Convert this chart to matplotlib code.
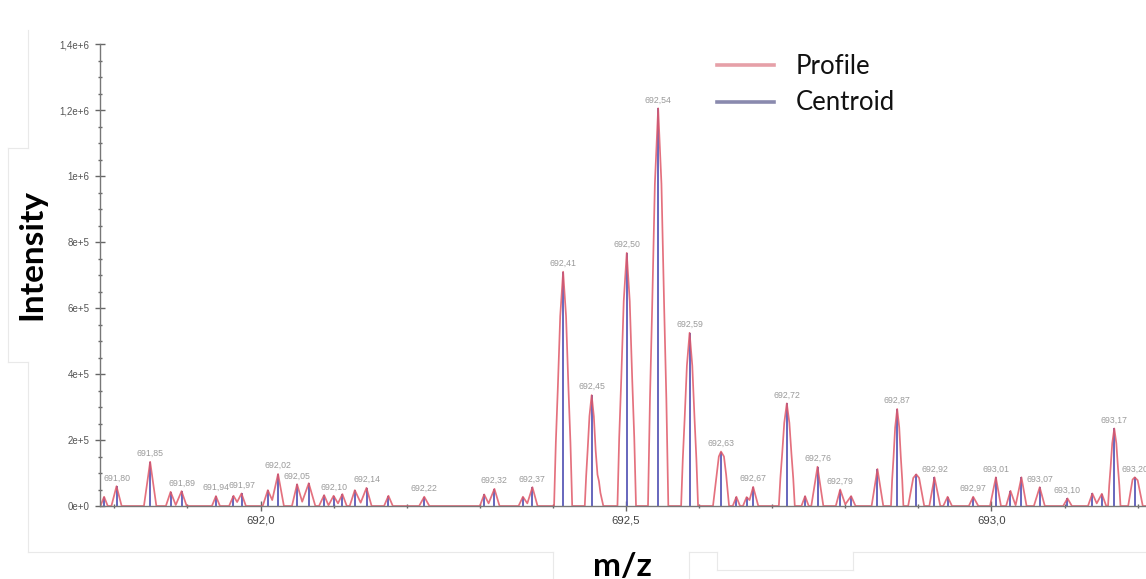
import matplotlib
matplotlib.use("Agg")
import matplotlib.pyplot as plt
from matplotlib.lines import Line2D
from matplotlib.ticker import FixedLocator, MultipleLocator

# ---------------- data ----------------
centroid_mz = [691.786, 691.803, 691.849, 691.877, 691.892, 691.939, 691.963, 691.974,
               692.010, 692.024, 692.050, 692.066, 692.087, 692.100, 692.112, 692.129,
               692.145, 692.175, 692.224, 692.306, 692.320, 692.359, 692.372, 692.414,
               692.453, 692.501, 692.544, 692.587, 692.630, 692.651, 692.665, 692.674,
               692.720, 692.745, 692.762, 692.793, 692.808, 692.844, 692.871, 692.897,
               692.922, 692.940, 692.975, 693.006, 693.026, 693.041, 693.066, 693.104,
               693.138, 693.151, 693.168, 693.196]
centroid_int = [28e3, 60e3, 134e3, 43e3, 45e3, 30e3, 31e3, 38e3,
                48e3, 97e3, 66e3, 69e3, 33e3, 31e3, 36e3, 48e3,
                55e3, 31e3, 28e3, 35e3, 52e3, 28e3, 57e3, 710e3,
                336e3, 767e3, 1205e3, 525e3, 165e3, 28e3, 27e3, 58e3,
                311e3, 30e3, 119e3, 50e3, 30e3, 112e3, 294e3, 96e3,
                87e3, 28e3, 28e3, 87e3, 46e3, 87e3, 57e3, 23e3,
                38e3, 37e3, 235e3, 87e3]

profile_mz = [691.780,
    691.781, 691.786, 691.791,
    691.796, 691.803, 691.810,
    691.8405, 691.849, 691.8575,
    691.8705, 691.877, 691.884, 691.892, 691.899,
    691.9335, 691.939, 691.9445,
    691.957, 691.963, 691.968, 691.974, 691.980,
    692.003, 692.010, 692.016, 692.024, 692.032,
    692.043, 692.050, 692.057, 692.066, 692.075,
    692.080, 692.087, 692.093, 692.100, 692.106, 692.112, 692.118,
    692.122, 692.129, 692.137, 692.145, 692.152,
    692.169, 692.175, 692.181,
    692.217, 692.224, 692.231,
    692.300, 692.306, 692.312, 692.320, 692.327,
    692.353, 692.359, 692.365, 692.372, 692.379,
    692.4016, 692.404, 692.4067, 692.410, 692.414, 692.418, 692.4213, 692.424, 692.4264,
    692.4436, 692.4455, 692.4475, 692.450, 692.453, 692.456, 692.4585, 692.461, 692.463, 692.465, 692.469,
    692.4883, 692.4907, 692.4935, 692.4969, 692.501, 692.5051, 692.5085, 692.5113, 692.5137,
    692.5301, 692.5328, 692.5358, 692.5395, 692.544, 692.5485, 692.5522, 692.5552, 692.5579,
    692.5754, 692.5777, 692.5802, 692.5833, 692.587, 692.5907, 692.5938, 692.5963, 692.5986,
    692.619, 692.624, 692.627, 692.630, 692.634, 692.637, 692.641,
    692.646, 692.651, 692.656,
    692.660, 692.665, 692.669, 692.674, 692.681,
    692.7091, 692.7112, 692.7136, 692.7165, 692.720, 692.7235, 692.7264, 692.7288, 692.7309,
    692.740, 692.745, 692.750,
    692.7535, 692.762, 692.770,
    692.787, 692.793, 692.800, 692.808, 692.814,
    692.836, 692.844, 692.852,
    692.8625, 692.8641, 692.866, 692.8682, 692.871, 692.8738, 692.876, 692.8779, 692.8795,
    692.886, 692.893, 692.897, 692.901, 692.908,
    692.915, 692.922, 692.930,
    692.934, 692.940, 692.946,
    692.969, 692.975, 692.982,
    692.998, 693.006, 693.013,
    693.020, 693.026, 693.033, 693.041, 693.048,
    693.058, 693.066, 693.073,
    693.098, 693.104, 693.110,
    693.132, 693.138, 693.144, 693.151, 693.157,
    693.1595, 693.1611, 693.163, 693.1652, 693.168, 693.1708, 693.173, 693.1749, 693.1765,
    693.187, 693.193, 693.196, 693.200, 693.207,
    693.215]
profile_int = [0,
    0, 28e3, 0,
    0, 60e3, 0,
    0, 134e3, 0,
    0, 43e3, 3e3, 45e3, 0,
    0, 30e3, 0,
    0, 31e3, 12e3, 38e3, 0,
    0, 48e3, 18e3, 97e3, 0,
    0, 66e3, 13e3, 69e3, 0,
    0, 33e3, 2e3, 31e3, 8e3, 36e3, 0,
    0, 48e3, 10e3, 55e3, 0,
    0, 31e3, 0,
    0, 28e3, 0,
    0, 35e3, 8e3, 52e3, 0,
    0, 28e3, 8e3, 57e3, 0,
    0, 192e3, 355e3, 575e3, 710e3, 575e3, 355e3, 192e3, 0,
    0, 91e3, 168e3, 272e3, 336e3, 272e3, 168e3, 95e3, 75e3, 40e3, 0,
    0, 207e3, 384e3, 621e3, 767e3, 621e3, 384e3, 207e3, 0,
    0, 325e3, 603e3, 976e3, 1205e3, 976e3, 603e3, 325e3, 0,
    0, 142e3, 263e3, 425e3, 525e3, 425e3, 263e3, 142e3, 0,
    0, 95e3, 150e3, 165e3, 150e3, 95e3, 0,
    0, 28e3, 0,
    0, 27e3, 18e3, 58e3, 0,
    0, 84e3, 156e3, 252e3, 311e3, 252e3, 156e3, 84e3, 0,
    0, 30e3, 0,
    0, 119e3, 0,
    0, 50e3, 5e3, 30e3, 0,
    0, 112e3, 0,
    0, 79e3, 147e3, 238e3, 294e3, 238e3, 147e3, 79e3, 0,
    0, 85e3, 96e3, 85e3, 0,
    0, 87e3, 0,
    0, 28e3, 0,
    0, 28e3, 0,
    0, 87e3, 0,
    0, 46e3, 2e3, 87e3, 0,
    0, 57e3, 0,
    0, 23e3, 0,
    0, 38e3, 8e3, 37e3, 0,
    0, 63e3, 118e3, 190e3, 235e3, 190e3, 118e3, 63e3, 0,
    0, 80e3, 87e3, 78e3, 0,
    0]

label_mz = [691.803, 691.849, 691.892, 691.939, 691.974, 692.024, 692.050, 692.100,
            692.145, 692.224, 692.320, 692.372, 692.414, 692.453, 692.501, 692.544,
            692.587, 692.630, 692.674, 692.720, 692.762, 692.793, 692.871, 692.922,
            692.975, 693.006, 693.066, 693.104, 693.168, 693.196]
label_text = ["691,80", "691,85", "691,89", "691,94", "691,97", "692,02", "692,05", "692,10",
              "692,14", "692,22", "692,32", "692,37", "692,41", "692,45", "692,50", "692,54",
              "692,59", "692,63", "692,67", "692,72", "692,76", "692,79", "692,87", "692,92",
              "692,97", "693,01", "693,07", "693,10", "693,17", "693,20"]

xtick_vals = [692.0, 692.5, 693.0]
xtick_labels = ["692,0", "692,5", "693,0"]
ytick_vals = [0, 2e5, 4e5, 6e5, 8e5, 1e6, 1.2e6, 1.4e6]
ytick_labels = ["0e+0", "2e+5", "4e+5", "6e+5", "8e+5", "1e+6", "1,2e+6", "1,4e+6"]

# ---------------- figure ----------------
W, H = 1146, 579
fig = plt.figure(figsize=(W / 100, H / 100), dpi=100)
fig.patch.set_facecolor("white")

def fx(px):
    return px / W

def fy(py):
    return (H - py) / H

ax = fig.add_axes([fx(100), fy(506), 1 - fx(100), fy(44) - fy(506)])
ax.set_xlim(691.7804, 693.2114)
ax.set_ylim(0, 1.4e6)

profile_color = "#e05868"
centroid_color = "#5a5ab8"

ax.vlines(centroid_mz, 0, centroid_int, colors=centroid_color, linewidth=1.3, zorder=2)
ax.plot(profile_mz, profile_int, color=profile_color, linewidth=1.25, alpha=0.85, zorder=3,
        solid_joinstyle="round")

lookup = dict(zip(centroid_mz, centroid_int))
for m, t in zip(label_mz, label_text):
    ax.annotate(t, (m, lookup[m]), xytext=(0, 6.0), textcoords="offset points",
                ha="center", va="center", fontsize=6.3, color="#9a9a9a",
                family="Liberation Sans", annotation_clip=False)

for s in ["top", "right"]:
    ax.spines[s].set_visible(False)
for s in ["left", "bottom"]:
    ax.spines[s].set_color("#777777")
    ax.spines[s].set_linewidth(1.0)
    ax.spines[s].set_zorder(4)

ax.xaxis.set_major_locator(FixedLocator(xtick_vals))
ax.set_xticklabels(xtick_labels, family="Liberation Sans", fontsize=8.2, color="#444444")
ax.xaxis.set_minor_locator(MultipleLocator(0.1))
ax.yaxis.set_major_locator(FixedLocator(ytick_vals))
ax.set_yticklabels(ytick_labels, family="Liberation Sans", fontsize=7, color="#555555")
ax.yaxis.set_minor_locator(MultipleLocator(5e4))

ax.tick_params(axis="both", which="major", direction="inout", length=7, width=1.0,
               color="#666666")
ax.tick_params(axis="both", which="minor", direction="inout", length=3.5, width=1.0,
               color="#666666")
ax.tick_params(axis="y", which="major", pad=4)
ax.tick_params(axis="x", which="major", pad=3)
ax.set_facecolor("none")

# axis titles
fig.text(fx(32), fy(255), "Intensity", rotation=90, ha="center", va="center",
         family="Lato", fontweight="bold", fontsize=24, color="black")
fig.text(fx(622), fy(566), "m/z", ha="center", va="center",
         family="Lato", fontweight="bold", fontsize=24, color="black")

# legend
fig.add_artist(Line2D([fx(717), fx(774)], [fy(64.5), fy(64.5)], color="#e6a0a8", lw=2.6))
fig.add_artist(Line2D([fx(717), fx(774)], [fy(102), fy(102)], color="#8a8aae", lw=2.6))
fig.text(fx(796), fy(66), "Profile", ha="left", va="center", family="Lato",
         fontsize=18.5, color="#111111")
fig.text(fx(796), fy(103), "Centroid", ha="left", va="center", family="Lato",
         fontsize=18.5, color="#111111")

# faint screenshot frame remnants
frame = "#e9e9e9"
segs = [
    ((27.7, 30), (27.7, 148)), ((8, 148), (27.7, 148)), ((8, 148), (8, 362)),
    ((8, 362), (27.7, 362)), ((27.7, 362), (27.7, 552)), ((27.7, 552), (553, 552)),
    ((553, 552), (553, 579)), ((689, 552), (689, 579)), ((689, 552), (717, 552)),
    ((717, 552), (717, 570)), ((717, 570), (853, 570)), ((853, 552), (853, 570)),
    ((853, 552), (1146, 552)),
]
for (x0, y0), (x1, y1) in segs:
    fig.add_artist(Line2D([fx(x0), fx(x1)], [fy(y0), fy(y1)], color=frame, lw=0.8))

fig.savefig("out.png", dpi=100, facecolor="white")
